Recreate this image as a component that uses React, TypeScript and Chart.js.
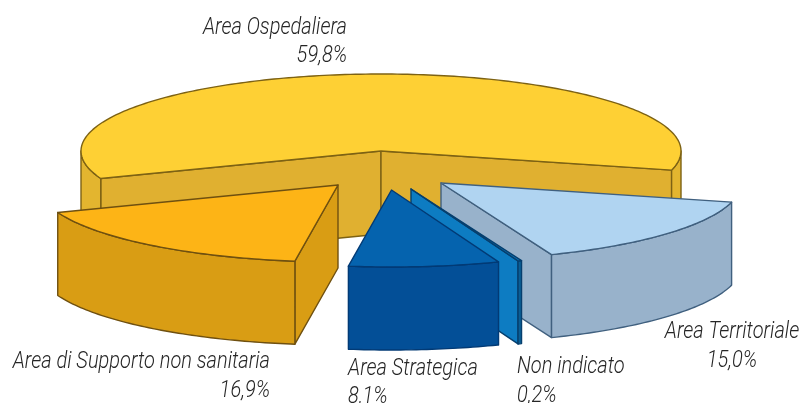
import React, { useEffect, useRef } from "react";
import { Chart, registerables } from "chart.js";

Chart.register(...registerables);

const categories = ["Area Ospedaliera", "Area Territoriale", "Non indicato", "Area Strategica", "Area di Supporto non sanitaria"];
const shares = [59.8, 15.0, 0.2, 8.1, 16.9];
const shareLabels = ["59,8%", "15,0%", "0,2%", "8,1%", "16,9%"];
const topColors = ["#fed034", "#b0d4f1", "#0d7cc2", "#0563ae", "#fdb416"];
const wallColors = ["#e0b030", "#98b2cb", "#0d7cc2", "#034f97", "#d99d14"];
const rimColors = ["#e3b52f", "#98b2cb", "#0a5f96", "#034f97", "#d99d14"];
const edgeColors = ["#7d6214", "#40607f", "#063f6e", "#023a75", "#6f5010"];
const apexes = [[381, 151], [441, 183], [411, 189], [391.5, 190], [338, 185]];
const labelBoxes = [
  { x: 347, y: 34, dy: 28, align: "right" },
  { x: 732, y: 338, dy: 29, align: "center" },
  { x: 517, y: 373, dy: 29, align: "left" },
  { x: 348, y: 375, dy: 28, align: "left" },
  { x: 270, y: 368, dy: 29, align: "right" },
];
const drawOrder = [0, 4, 1, 2, 3];
const RX = 300;
const RY = 77;
const DEPTH = 83;
const TEXT_SQUEEZE = 0.87;

const pie3d = {
  id: "pie3d",
  beforeDatasetsDraw(chart: any) {
    const ctx: CanvasRenderingContext2D = chart.ctx;
    const arcs = chart.getDatasetMeta(0).data;
    const step = Math.PI / 180;
    drawOrder.forEach((i) => {
      const arc = arcs[i];
      const s = arc.startAngle;
      const e = arc.endAngle;
      const [ax, ay] = apexes[i];
      const px = (t: number) => ax + Math.cos(t) * RX;
      const py = (t: number) => ay + Math.sin(t) * RY;
      ctx.save();
      ctx.lineJoin = "round";
      ctx.lineWidth = 1.4;
      ctx.strokeStyle = edgeColors[i];

      const face = (t: number) => {
        ctx.beginPath();
        ctx.moveTo(ax, ay);
        ctx.lineTo(px(t), py(t));
        ctx.lineTo(px(t), py(t) + DEPTH);
        ctx.lineTo(ax, ay + DEPTH);
        ctx.closePath();
        ctx.fillStyle = wallColors[i];
        ctx.fill();
        ctx.stroke();
      };
      if (Math.cos(s) > 0 === false) face(s);
      if (Math.cos(e) > 0) face(e);

      // outer rim: only the part that faces the viewer (sin > 0)
      const ranges: number[][] = [];
      for (let k = 0; k <= 2; k++) {
        const lo = Math.max(s, k * 2 * Math.PI - 2 * Math.PI);
        const hi = Math.min(e, k * 2 * Math.PI - Math.PI);
        if (hi > lo) ranges.push([lo, hi]);
      }
      ranges.forEach(([lo, hi]) => {
        ctx.beginPath();
        for (let t = lo; t < hi; t += step) ctx.lineTo(px(t), py(t));
        ctx.lineTo(px(hi), py(hi));
        ctx.lineTo(px(hi), py(hi) + DEPTH);
        for (let t = hi; t > lo; t -= step) ctx.lineTo(px(t), py(t) + DEPTH);
        ctx.lineTo(px(lo), py(lo) + DEPTH);
        ctx.closePath();
        ctx.fillStyle = rimColors[i];
        ctx.fill();
        ctx.stroke();
      });

      // top face: the library's own arc, flattened to an ellipse
      const R = arc.outerRadius;
      ctx.save();
      ctx.translate(ax, ay);
      ctx.scale(RX / R, RY / R);
      ctx.translate(-arc.x, -arc.y);
      arc.draw(ctx);
      ctx.restore();
      ctx.beginPath();
      ctx.moveTo(ax, ay);
      for (let t = s; t < e; t += step) ctx.lineTo(px(t), py(t));
      ctx.lineTo(px(e), py(e));
      ctx.closePath();
      ctx.stroke();
      ctx.restore();
    });

    // labels: condensed light italic, as in the reference
    ctx.save();
    ctx.font = 'italic 300 23px Roboto, "Liberation Sans", sans-serif';
    ctx.fillStyle = "#262626";
    ctx.textBaseline = "alphabetic";
    categories.forEach((name, i) => {
      const b = labelBoxes[i];
      ctx.textAlign = b.align as CanvasTextAlign;
      ctx.save();
      ctx.translate(b.x, 0);
      ctx.scale(TEXT_SQUEEZE, 1);
      ctx.fillText(name, 0, b.y);
      ctx.fillText(shareLabels[i], 0, b.y + b.dy);
      ctx.restore();
    });
    ctx.restore();
    return false;
  },
};

export default function App() {
  const ref = useRef<HTMLCanvasElement>(null);
  useEffect(() => {
    document.body.style.margin = "0";
    const chart = new Chart(ref.current!, {
      type: "pie",
      data: {
        labels: categories,
        datasets: [{ data: shares, backgroundColor: topColors, borderWidth: 0 }],
      },
      options: {
        responsive: false,
        animation: false,
        rotation: 249.1,
        layout: { padding: 0 },
        plugins: { legend: { display: false }, tooltip: { enabled: false } },
      },
      plugins: [pie3d],
    } as any);
    return () => chart.destroy();
  }, []);
  return <canvas ref={ref} width={801} height={403} style={{ display: "block" }} />;
}
